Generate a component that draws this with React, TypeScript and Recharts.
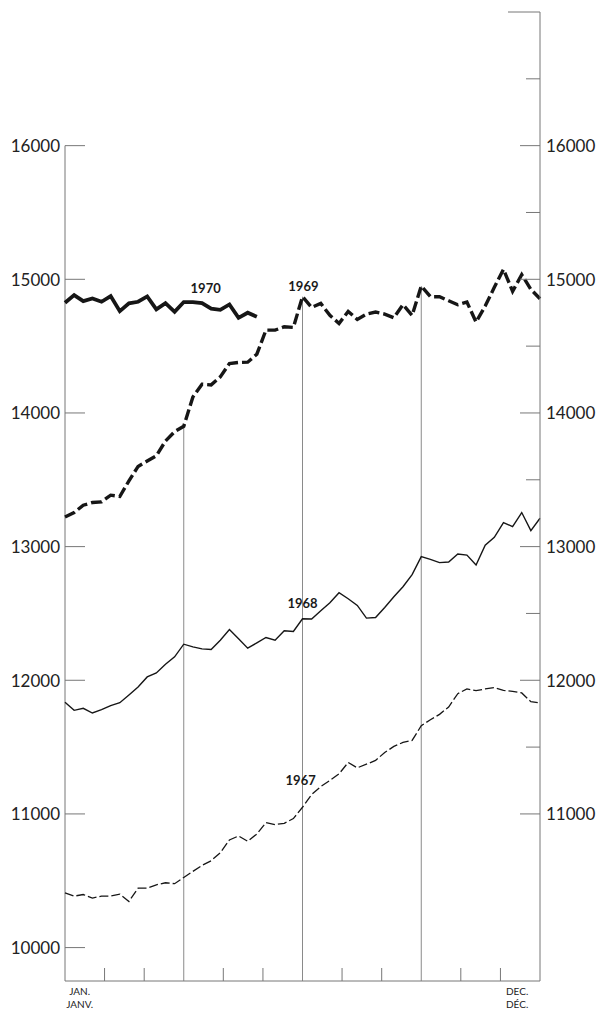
import React from "react";
import { LineChart, Line, XAxis, YAxis, ReferenceLine, ReferenceDot } from "recharts";

// semaines de l'année, 0 = début janvier, 52 = fin décembre
const semaines = [
  0, 1, 2, 3, 4, 5, 6, 7, 8, 9, 10, 11, 12, 13, 14, 15, 16, 17, 18, 19, 20, 21, 22, 23, 24, 25, 26,
  27, 28, 29, 30, 31, 32, 33, 34, 35, 36, 37, 38, 39, 40, 41, 42, 43, 44, 45, 46, 47, 48, 49, 50,
  51, 52,
];

const serie1967 = [
  10410, 10385, 10397, 10370, 10385, 10385, 10400, 10345, 10445, 10445, 10470, 10485, 10478, 10525,
  10570, 10615, 10650, 10710, 10805, 10835, 10795, 10850, 10935, 10920, 10930, 10965, 11050, 11145,
  11205, 11250, 11300, 11385, 11345, 11372, 11400, 11460, 11505, 11535, 11550, 11660, 11705, 11745,
  11800, 11900, 11935, 11922, 11935, 11945, 11925, 11917, 11905, 11840, 11830,
];

const serie1968 = [
  11835, 11775, 11790, 11755, 11780, 11810, 11832, 11890, 11950, 12025, 12055, 12120, 12175, 12270,
  12250, 12235, 12230, 12300, 12380, 12310, 12240, 12280, 12320, 12300, 12370, 12365, 12460, 12458,
  12520, 12580, 12655, 12610, 12560, 12465, 12470, 12545, 12625, 12700, 12790, 12925, 12905, 12880,
  12885, 12945, 12937, 12862, 13010, 13070, 13180, 13150, 13255, 13120, 13212,
];

const serie1969 = [
  13222, 13255, 13310, 13330, 13335, 13385, 13375, 13492, 13600, 13640, 13680, 13790, 13860, 13900,
  14120, 14215, 14210, 14270, 14370, 14378, 14380, 14440, 14620, 14620, 14645, 14640, 14870, 14790,
  14820, 14730, 14670, 14760, 14700, 14740, 14755, 14740, 14712, 14810, 14730, 14950, 14870, 14870,
  14840, 14810, 14830, 14680, 14800, 14940, 15075, 14910, 15035, 14925, 14855,
];

const serie1970 = [
  14825, 14882, 14837, 14857, 14832, 14875, 14762, 14820, 14832, 14872, 14775, 14822, 14757, 14830,
  14830, 14822, 14780, 14772, 14812, 14712, 14750, 14720,
];

const gradGauche = [10000, 11000, 12000, 13000, 14000, 15000, 16000];
const gradDroite = [11000, 11500, 12000, 12500, 13000, 13500, 14000, 14500, 15000, 15500, 16000, 16500, 17000];
const limitesMois = [4.33, 8.67, 17.33, 21.67, 30.33, 34.67, 43.33, 47.67];
const trimestres = [13, 26, 39];
const moisTextes = [
  { semaine: 1.6, haut: "JAN.", bas: "JANV." },
  { semaine: 49.5, haut: "DEC.", bas: "DÉC." },
];
const annees = [
  { nom: "1970", semaine: 15.4, valeur: 14935 },
  { nom: "1969", semaine: 26.1, valeur: 14946 },
  { nom: "1968", semaine: 26.0, valeur: 12578 },
  { nom: "1967", semaine: 25.8, valeur: 11254 },
];

const donnees = semaines.map((s, i) => ({
  semaine: s,
  a1967: serie1967[i],
  a1968: serie1968[i],
  a1969: serie1969[i],
  a1970: i < serie1970.length ? serie1970[i] : null,
}));

const police = "Lato, 'Open Sans', sans-serif";
const encre = "#161616";
const trait = "#777";

function TickGauche({ x, y, payload }: any) {
  return (
    <g>
      <line x1={x} x2={x + 20} y1={y} y2={y} stroke={trait} strokeWidth={1} />
      <text x={x - 5} y={y} textAnchor="end" dominantBaseline="central" fontSize={17} fontFamily={police} fill="#222">
        {payload.value}
      </text>
    </g>
  );
}

function TickDroite({ x, y, payload }: any) {
  const v = payload.value;
  const haut = v === 17000;
  const majeur = v % 1000 === 0;
  const long = haut ? 32 : majeur ? 20 : 14;
  return (
    <g>
      <line x1={x - long} x2={x} y1={y} y2={y} stroke={trait} strokeWidth={1} />
      {majeur && !haut && (
        <text x={x + 6} y={y} textAnchor="start" dominantBaseline="central" fontSize={17} fontFamily={police} fill="#222">
          {v}
        </text>
      )}
    </g>
  );
}

function TickX({ x, y, payload }: any) {
  const m = moisTextes.find((t) => t.semaine === payload.value);
  if (m) {
    return (
      <g>
        <text x={x} y={y + 14} textAnchor="middle" fontSize={10} fontFamily={police} fill="#222">
          {m.haut}
        </text>
        <text x={x} y={y + 27} textAnchor="middle" fontSize={10} fontFamily={police} fill="#222">
          {m.bas}
        </text>
      </g>
    );
  }
  return <line x1={x} x2={x} y1={y} y2={y - 13} stroke={trait} strokeWidth={1} />;
}

export default function App() {
  return (
    <div style={{ position: "absolute", left: 0, top: 0, background: "#fff" }}>
      <LineChart width={596} height={1015} data={donnees} margin={{ top: 12, right: 0, bottom: 0, left: 0 }}>
        <XAxis
          dataKey="semaine"
          type="number"
          domain={[0, 52]}
          ticks={[...limitesMois, ...moisTextes.map((m) => m.semaine)]}
          interval={0}
          tickLine={false}
          tickSize={0}
          tickMargin={0}
          height={34}
          axisLine={{ stroke: trait }}
          tick={TickX}
        />
        <YAxis
          yAxisId="g"
          type="number"
          domain={[9750, 17000]}
          allowDataOverflow
          ticks={gradGauche}
          interval={0}
          width={65}
          axisLine={false}
          tickLine={false}
          tickSize={0}
          tickMargin={0}
          tick={TickGauche}
        />
        <YAxis
          yAxisId="d"
          orientation="right"
          type="number"
          domain={[9750, 17000]}
          allowDataOverflow
          ticks={gradDroite}
          interval={0}
          width={56}
          axisLine={{ stroke: trait }}
          tickLine={false}
          tickSize={0}
          tickMargin={0}
          tick={TickDroite}
        />
        <ReferenceLine
          yAxisId="g"
          segment={[{ x: 0, y: 9750 }, { x: 0, y: 16000 }]}
          stroke={trait}
          strokeWidth={1}
        />
        {trimestres.map((q) => (
          <ReferenceLine
            key={q}
            yAxisId="g"
            segment={[{ x: q, y: 9750 }, { x: q, y: serie1969[q] }]}
            stroke="#8a8a8a"
            strokeWidth={1}
          />
        ))}
        <Line yAxisId="g" type="linear" dataKey="a1967" stroke={encre} strokeWidth={1.3} strokeDasharray="9 3" dot={false} isAnimationActive={false} />
        <Line yAxisId="g" type="linear" dataKey="a1968" stroke={encre} strokeWidth={1.4} dot={false} isAnimationActive={false} />
        <Line yAxisId="g" type="linear" dataKey="a1969" stroke={encre} strokeWidth={3.4} strokeDasharray="11 4" dot={false} isAnimationActive={false} />
        <Line yAxisId="g" type="linear" dataKey="a1970" stroke={encre} strokeWidth={3.8} dot={false} isAnimationActive={false} />
        {annees.map((a) => (
          <ReferenceDot
            key={a.nom}
            yAxisId="g"
            x={a.semaine}
            y={a.valeur}
            r={0}
            fill="none"
            stroke="none"
            label={{ value: a.nom, position: "center", fontSize: 13, fontWeight: 700, fontFamily: police, fill: "#1a1a1a" }}
          />
        ))}
      </LineChart>
    </div>
  );
}
